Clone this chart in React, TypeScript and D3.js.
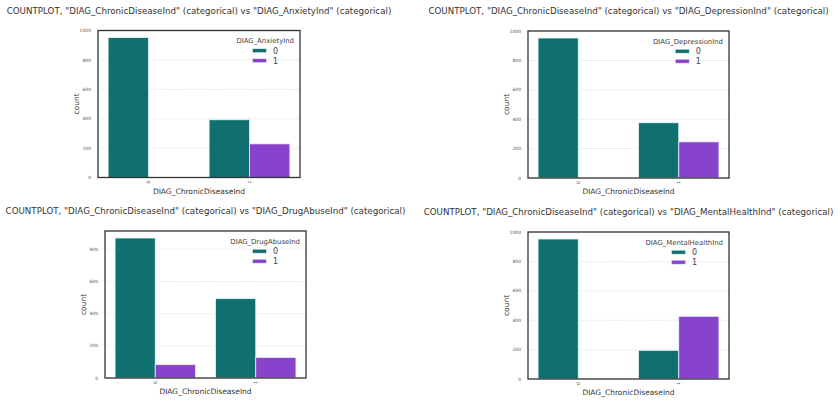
import React, { useEffect, useRef } from "react";
import * as d3 from "d3";

// x categories and hue levels (same for all four plots)
const categories = ["0", "1"];
const hueLevels = ["0", "1"];
const xLabel = "DIAG_ChronicDiseaseInd";

// counts per hue level, one value per category
const anxietyInd0 = [953, 393];
const anxietyInd1 = [0, 229];
const depressionInd0 = [953, 376];
const depressionInd1 = [0, 246];
const drugAbuseInd0 = [870, 493];
const drugAbuseInd1 = [83, 128];
const mentalHealthInd0 = [953, 195];
const mentalHealthInd1 = [0, 427];

const hueColors = ["#107070", "#8942cb"];

const plots = [
  { hue: "DIAG_AnxietyInd", series: [anxietyInd0, anxietyInd1], box: [98, 300, 30.5, 177.5] },
  { hue: "DIAG_DepressionInd", series: [depressionInd0, depressionInd1], box: [528, 729, 31, 178] },
  { hue: "DIAG_DrugAbuseInd", series: [drugAbuseInd0, drugAbuseInd1], box: [105, 306, 231, 378] },
  { hue: "DIAG_MentalHealthInd", series: [mentalHealthInd0, mentalHealthInd1], box: [528, 729, 232, 379] },
];

const FONT = "DejaVu Sans, sans-serif";

const App: React.FC = () => {
  const svgRef = useRef<SVGSVGElement | null>(null);

  useEffect(() => {
    if (!svgRef.current) return;
    const svg = d3.select(svgRef.current);
    svg.selectAll("*").remove();

    plots.forEach((p) => {
      const [x0, x1, y0, y1] = p.box;
      const g = svg.append("g");

      const x = d3.scaleLinear().domain([-0.5, categories.length - 0.5]).range([x0, x1]);
      const maxVal = d3.max(p.series.flat()) as number;
      const y = d3.scaleLinear().domain([0, maxVal * 1.05]).range([y1, y0]);
      const bandW = 0.8 / hueLevels.length;

      // grid
      const ticks = y.ticks(5);
      g.selectAll(".grid")
        .data(ticks)
        .enter()
        .append("line")
        .attr("x1", x0)
        .attr("x2", x1)
        .attr("y1", (d) => y(d))
        .attr("y2", (d) => y(d))
        .style("stroke", "#d0d0d0")
        .style("stroke-width", 0.8)
        .style("stroke-dasharray", "1,1.5");

      // bars (zero counts draw nothing)
      p.series.forEach((vals, h) => {
        g.selectAll(".bar" + h)
          .data(vals)
          .enter()
          .append("rect")
          .attr("x", (_, i) => x(i - 0.4 + h * bandW))
          .attr("width", x(bandW) - x(0))
          .attr("y", (d) => y(d))
          .attr("height", (d) => y(0) - y(d))
          .style("display", (d) => (d > 0 ? null : "none"))
          .style("fill", hueColors[h])
          .style("stroke", "#e6f4f4")
          .style("stroke-width", 0.8);
      });

      // frame
      g.append("rect")
        .attr("x", x0)
        .attr("y", y0)
        .attr("width", x1 - x0)
        .attr("height", y1 - y0)
        .style("fill", "none")
        .style("stroke", "#333")
        .style("stroke-width", 1.3);

      // y tick labels
      g.selectAll(".ytick")
        .data(ticks)
        .enter()
        .append("text")
        .attr("x", x0 - 7)
        .attr("y", (d) => y(d))
        .attr("dy", "0.35em")
        .attr("text-anchor", "end")
        .style("font-family", FONT)
        .style("font-size", "4.5px")
        .style("fill", "#555")
        .text((d) => String(d));

      // x tick labels (rotated)
      g.selectAll(".xtick")
        .data(categories)
        .enter()
        .append("text")
        .attr("transform", (_, i) => `translate(${x(i)},${y1 + 3}) rotate(-90)`)
        .attr("dy", "0.35em")
        .attr("text-anchor", "end")
        .style("font-family", FONT)
        .style("font-size", "4.5px")
        .style("fill", "#555")
        .text((d) => d);

      // axis labels
      g.append("text")
        .attr("x", (x0 + x1) / 2)
        .attr("y", y1 + 16)
        .attr("text-anchor", "middle")
        .style("font-family", FONT)
        .style("font-size", "7.5px")
        .style("fill", "#333")
        .text(xLabel);

      g.append("text")
        .attr("transform", `translate(${x0 - 22},${(y0 + y1) / 2}) rotate(-90)`)
        .attr("dy", "0.35em")
        .attr("text-anchor", "middle")
        .style("font-family", FONT)
        .style("font-size", "7.5px")
        .style("fill", "#333")
        .text("count");

      // title
      g.append("text")
        .attr("x", (x0 + x1) / 2)
        .attr("y", y0 - 17)
        .attr("text-anchor", "middle")
        .style("font-family", FONT)
        .style("font-size", "8.7px")
        .style("fill", "#333")
        .text(`COUNTPLOT, "${xLabel}" (categorical) vs "${p.hue}" (categorical)`);

      // legend
      const legTitle = g.append("text")
        .attr("x", x1 - 6)
        .attr("y", y0 + 12.7)
        .attr("text-anchor", "end")
        .style("font-family", FONT)
        .style("font-size", "6.9px")
        .style("fill", "#444")
        .text(p.hue);
      const tw = (legTitle.node() as SVGTextElement).getComputedTextLength();
      const cx = x1 - 6 - tw / 2;
      const entryW = 14 + 6.5 + 5;
      const ex = cx - entryW / 2;
      hueLevels.forEach((lvl, h) => {
        const ey = y0 + 18.2 + h * 10;
        g.append("rect")
          .attr("x", ex)
          .attr("y", ey)
          .attr("width", 14)
          .attr("height", 4)
          .style("fill", hueColors[h])
          .style("stroke", "#e6f4f4")
          .style("stroke-width", 0.6);
        g.append("text")
          .attr("x", ex + 20.5)
          .attr("y", ey + 2)
          .attr("dy", "0.35em")
          .style("font-family", FONT)
          .style("font-size", "8px")
          .style("fill", "#444")
          .text(lvl);
      });
    });
  }, []);

  return (
    <div style={{ position: "absolute", left: 0, top: 0 }}>
      <svg ref={svgRef} width={840} height={405} style={{ display: "block", background: "#fff" }}></svg>
    </div>
  );
};

export default App;
